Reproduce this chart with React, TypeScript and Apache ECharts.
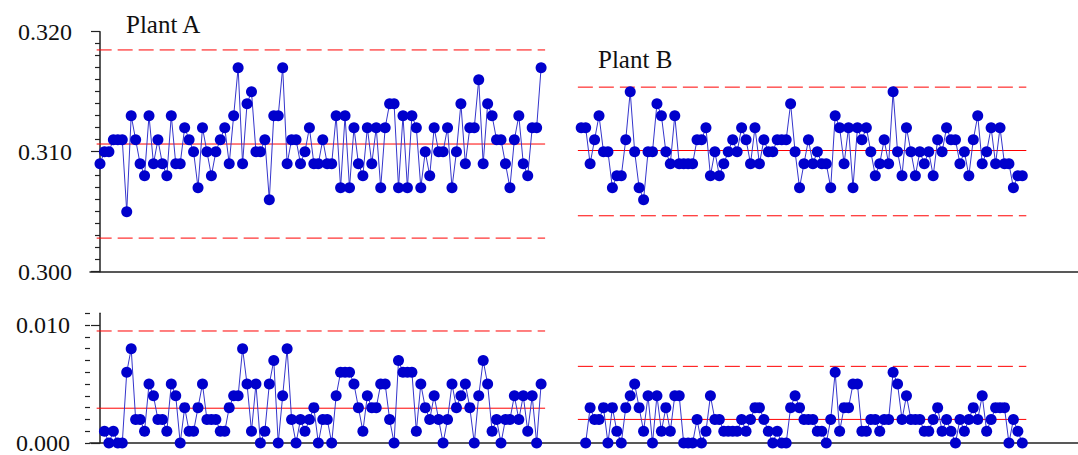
import React, { useEffect, useRef } from "react";
import * as echarts from "echarts";

// Individual measurements, Plant A (100 samples)
const plantA = [
  0.309, 0.310, 0.310, 0.311, 0.311, 0.311, 0.305, 0.313, 0.311, 0.309,
  0.308, 0.313, 0.309, 0.311, 0.309, 0.308, 0.313, 0.309, 0.309, 0.312,
  0.311, 0.310, 0.307, 0.312, 0.310, 0.308, 0.310, 0.311, 0.312, 0.309,
  0.313, 0.317, 0.309, 0.314, 0.315, 0.310, 0.310, 0.311, 0.306, 0.313,
  0.313, 0.317, 0.309, 0.311, 0.311, 0.309, 0.310, 0.312, 0.309, 0.309,
  0.311, 0.309, 0.309, 0.313, 0.307, 0.313, 0.307, 0.312, 0.309, 0.308,
  0.312, 0.309, 0.312, 0.307, 0.312, 0.314, 0.314, 0.307, 0.313, 0.307,
  0.313, 0.312, 0.307, 0.310, 0.308, 0.312, 0.310, 0.310, 0.312, 0.307,
  0.310, 0.314, 0.309, 0.312, 0.312, 0.316, 0.309, 0.314, 0.313, 0.311,
  0.311, 0.309, 0.307, 0.311, 0.313, 0.309, 0.308, 0.312, 0.312, 0.317,
];

// Individual measurements, Plant B (100 samples)
const plantB = [
  0.312, 0.312, 0.309, 0.311, 0.313, 0.310, 0.310, 0.307, 0.308, 0.308,
  0.311, 0.315, 0.310, 0.307, 0.306, 0.310, 0.310, 0.314, 0.313, 0.310,
  0.309, 0.313, 0.309, 0.309, 0.309, 0.309, 0.311, 0.311, 0.312, 0.308,
  0.310, 0.308, 0.309, 0.310, 0.311, 0.310, 0.312, 0.311, 0.309, 0.312,
  0.309, 0.311, 0.310, 0.310, 0.311, 0.311, 0.311, 0.314, 0.310, 0.307,
  0.309, 0.311, 0.309, 0.310, 0.309, 0.309, 0.307, 0.313, 0.312, 0.309,
  0.312, 0.307, 0.312, 0.311, 0.312, 0.310, 0.308, 0.309, 0.311, 0.309,
  0.315, 0.310, 0.308, 0.312, 0.310, 0.308, 0.310, 0.309, 0.310, 0.308,
  0.311, 0.310, 0.312, 0.311, 0.311, 0.309, 0.310, 0.308, 0.311, 0.313,
  0.309, 0.310, 0.312, 0.309, 0.312, 0.309, 0.309, 0.307, 0.308, 0.308,
];

// Moving ranges, Plant A (99 values, from sample 2)
const mrA = [
  0.001, 0.000, 0.001, 0.000, 0.000, 0.006, 0.008, 0.002, 0.002, 0.001,
  0.005, 0.004, 0.002, 0.002, 0.001, 0.005, 0.004, 0.000, 0.003, 0.001,
  0.001, 0.003, 0.005, 0.002, 0.002, 0.002, 0.001, 0.001, 0.003, 0.004,
  0.004, 0.008, 0.005, 0.001, 0.005, 0.000, 0.001, 0.005, 0.007, 0.000,
  0.004, 0.008, 0.002, 0.000, 0.002, 0.001, 0.002, 0.003, 0.000, 0.002,
  0.002, 0.000, 0.004, 0.006, 0.006, 0.006, 0.005, 0.003, 0.001, 0.004,
  0.003, 0.003, 0.005, 0.005, 0.002, 0.000, 0.007, 0.006, 0.006, 0.006,
  0.001, 0.005, 0.003, 0.002, 0.004, 0.002, 0.000, 0.002, 0.005, 0.003,
  0.004, 0.005, 0.003, 0.000, 0.004, 0.007, 0.005, 0.001, 0.002, 0.000,
  0.002, 0.002, 0.004, 0.002, 0.004, 0.001, 0.004, 0.000, 0.005,
];

// Moving ranges, Plant B (99 values, from sample 2)
const mrB = [
  0.000, 0.003, 0.002, 0.002, 0.003, 0.000, 0.003, 0.001, 0.000, 0.003,
  0.004, 0.005, 0.003, 0.001, 0.004, 0.000, 0.004, 0.001, 0.003, 0.001,
  0.004, 0.004, 0.000, 0.000, 0.000, 0.002, 0.000, 0.001, 0.004, 0.002,
  0.002, 0.001, 0.001, 0.001, 0.001, 0.002, 0.001, 0.002, 0.003, 0.003,
  0.002, 0.001, 0.000, 0.001, 0.000, 0.000, 0.003, 0.004, 0.003, 0.002,
  0.002, 0.002, 0.001, 0.001, 0.000, 0.002, 0.006, 0.001, 0.003, 0.003,
  0.005, 0.005, 0.001, 0.001, 0.002, 0.002, 0.001, 0.002, 0.002, 0.006,
  0.005, 0.002, 0.004, 0.002, 0.002, 0.002, 0.001, 0.001, 0.002, 0.003,
  0.001, 0.002, 0.001, 0.000, 0.002, 0.001, 0.002, 0.003, 0.002, 0.004,
  0.001, 0.002, 0.003, 0.003, 0.003, 0.000, 0.002, 0.001, 0.000,
];

// Control limits
const limitsA = { cl: 0.31064, ucl: 0.31848, lcl: 0.3028, mrCl: 0.00295, mrUcl: 0.0095 };
const limitsB = { cl: 0.3101, ucl: 0.31538, lcl: 0.30466, mrCl: 0.002, mrUcl: 0.0065 };

// Tick labels
const topTicks = [0.3, 0.31, 0.32];
const bottomTicks = [0, 0.01];
const groupNames = ["Plant A", "Plant B"];

// x positions (sample index) where each plant starts
const startA = 0;
const startB = 108;

const FONT = '"Liberation Serif", "Times New Roman", serif';
const AXIS_COLOR = "#222";
const DOT = "#0000cc";
const LINE = "#3535cc";
const RED = "#ff0000";

function App() {
  const ref = useRef<HTMLDivElement>(null);

  useEffect(() => {
    if (!ref.current) return;
    const chart = echarts.init(ref.current, null, { renderer: "svg" });

    const pts = (vals: number[], start: number) => vals.map((v, i) => [start + i, v]);
    const dataSeries = (vals: number[], start: number, axis: number) => ({
      type: "line",
      xAxisIndex: axis,
      yAxisIndex: axis,
      data: pts(vals, start),
      symbol: "circle",
      symbolSize: 11,
      itemStyle: { color: DOT },
      lineStyle: { color: LINE, width: 1 },
      z: 5,
      silent: true,
    });
    const hLine = (y: number, x0: number, x1: number, axis: number, dashed: boolean) => ({
      type: "line",
      xAxisIndex: axis,
      yAxisIndex: axis,
      data: [
        [x0, y],
        [x1, y],
      ],
      symbol: "none",
      itemStyle: { color: RED },
      lineStyle: { color: RED, width: 1, type: dashed ? [15, 6] : "solid" },
      z: 2,
      silent: true,
    });

    const endA = startA + plantA.length - 1;
    const endB = startB + plantB.length - 1;
    const ext = (s: number, e: number) => [s - 0.75, e + 0.9];
    const [a0, a1] = ext(startA, endA);
    const [b0, b1] = ext(startB, endB);

    const xMin = -2.245;
    const xMax = 219.5;

    const xAxisCommon = {
      type: "value",
      min: xMin,
      max: xMax,
      axisLine: { show: true, onZero: false, lineStyle: { color: AXIS_COLOR, width: 1.5 } },
      axisTick: { show: false },
      axisLabel: { show: false },
      splitLine: { show: false },
    };

    const labelStyle = {
      fontFamily: FONT,
      fontSize: 24,
      color: "#111",
    };

    chart.setOption({
      animation: false,
      grid: [
        { left: 90, right: 0, top: 31.7, height: 240 },
        { left: 90, right: 0, top: 313.3, height: 132 },
      ],
      xAxis: [
        { ...xAxisCommon, gridIndex: 0 },
        { ...xAxisCommon, gridIndex: 1 },
      ],
      yAxis: [
        {
          type: "value",
          gridIndex: 0,
          min: topTicks[0],
          max: topTicks[topTicks.length - 1],
          interval: 0.01,
          axisLine: { show: true, lineStyle: { color: AXIS_COLOR, width: 1.5 } },
          axisTick: { show: true, length: 9, lineStyle: { color: AXIS_COLOR, width: 1.2 } },
          minorTick: { show: true, splitNumber: 10, length: 5, lineStyle: { color: AXIS_COLOR, width: 1.2 } },
          axisLabel: {
            ...labelStyle,
            margin: 18,
            padding: [5, 0, 0, 0],
            formatter: (v: number) => v.toFixed(3),
          },
          splitLine: { show: false },
        },
        {
          type: "value",
          gridIndex: 1,
          min: 0,
          max: 0.011,
          interval: 0.01,
          axisLine: { show: true, lineStyle: { color: AXIS_COLOR, width: 1.5 } },
          axisTick: {
            show: true,
            length: 9,
            customValues: bottomTicks,
            lineStyle: { color: AXIS_COLOR, width: 1.2 },
          },
          axisLabel: {
            ...labelStyle,
            margin: 20,
            customValues: bottomTicks,
            formatter: (v: number) => v.toFixed(3),
          },
          splitLine: { show: false },
        },
        {
          type: "value",
          gridIndex: 1,
          position: "left",
          min: 0,
          max: 0.011,
          interval: 0.001,
          axisLine: { show: false },
          axisTick: { show: true, length: 5, lineStyle: { color: AXIS_COLOR, width: 1.2 } },
          axisLabel: { show: false },
          splitLine: { show: false },
        },
      ],
      graphic: [
        {
          type: "text",
          x: 126,
          y: 24,
          style: {
            text: groupNames[0],
            fontFamily: FONT,
            fontSize: 25,
            fill: "#111",
            align: "left",
            verticalAlign: "middle",
          },
        },
        {
          type: "text",
          x: 598,
          y: 59,
          style: {
            text: groupNames[1],
            fontFamily: FONT,
            fontSize: 25,
            fill: "#111",
            align: "left",
            verticalAlign: "middle",
          },
        },
      ],
      series: [
        hLine(limitsA.ucl, a0, a1, 0, true),
        hLine(limitsA.lcl, a0, a1, 0, true),
        hLine(limitsA.cl, a0, a1, 0, false),
        hLine(limitsB.ucl, b0, b1, 0, true),
        hLine(limitsB.lcl, b0, b1, 0, true),
        hLine(limitsB.cl, b0, b1, 0, false),
        hLine(limitsA.mrUcl, a0, a1, 1, true),
        hLine(limitsA.mrCl, a0, a1, 1, false),
        hLine(limitsB.mrUcl, b0, b1, 1, true),
        hLine(limitsB.mrCl, b0, b1, 1, false),
        dataSeries(plantA, startA, 0),
        dataSeries(plantB, startB, 0),
        dataSeries(mrA, startA + 1, 1),
        dataSeries(mrB, startB + 1, 1),
      ],
    });

    return () => chart.dispose();
  }, []);

  return (
    <div
      ref={ref}
      style={{ position: "fixed", left: 0, top: 0, width: 1078, height: 455, background: "#fff" }}
    />
  );
}

export default App;
